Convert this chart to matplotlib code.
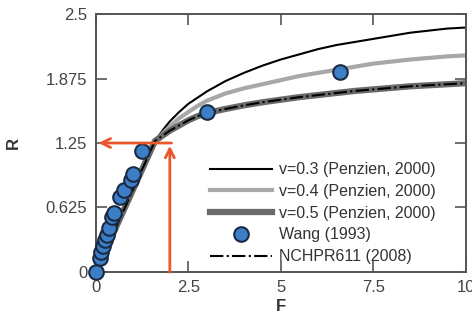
import matplotlib
matplotlib.use('Agg')
import matplotlib.pyplot as plt

plt.rcParams['font.family'] = ['Liberation Sans', 'DejaVu Sans']

# curves (Penzien, 2000)
F_curve = [0, 1.6, 1.8, 2.0, 2.25, 2.5, 2.75, 3.0, 3.5, 4.0, 4.5, 5.0, 5.5, 6.0,
           6.5, 7.0, 7.5, 8.0, 8.5, 9.0, 9.5, 10.0]
R_v03 = [0, 1.27, 1.37, 1.46, 1.55, 1.63, 1.69, 1.75, 1.85, 1.93, 2.00, 2.06, 2.11, 2.16,
         2.20, 2.23, 2.26, 2.29, 2.32, 2.34, 2.36, 2.37]
R_v04 = [0, 1.27, 1.34, 1.41, 1.49, 1.55, 1.61, 1.66, 1.73, 1.78, 1.82, 1.86, 1.90, 1.93,
         1.96, 1.99, 2.02, 2.04, 2.06, 2.075, 2.09, 2.10]
R_v05 = [0, 1.27, 1.32, 1.37, 1.42, 1.47, 1.51, 1.54, 1.58, 1.615, 1.645, 1.67, 1.695, 1.715,
         1.735, 1.755, 1.77, 1.785, 1.80, 1.81, 1.82, 1.83]
R_nchrp = R_v05

# Wang (1993) test points
F_wang = [0, 0.1, 0.15, 0.2, 0.25, 0.3, 0.35, 0.45, 0.5, 0.65, 0.75, 0.95, 1.0, 1.25, 3.0, 6.6]
R_wang = [0, 0.13, 0.19, 0.25, 0.31, 0.36, 0.43, 0.53, 0.57, 0.73, 0.79, 0.89, 0.95, 1.17, 1.55, 1.94]

xticks = [0, 2.5, 5, 7.5, 10]
yticks = [0, 0.625, 1.25, 1.875, 2.5]
ytick_labels = ['0', '0.625', '1.25', '1.875', '2.5']

F_read = 2.0
R_read = 1.25

fig = plt.figure(figsize=(4.72, 3.21), dpi=100)
ax = fig.add_axes([0.203, 0.153, 0.784, 0.803])

ax.plot(F_curve, R_v03, '-', color='black', lw=1.5, label='v=0.3 (Penzien, 2000)')
ax.plot(F_curve, R_v04, '-', color='#a8a8a8', lw=3, label='v=0.4 (Penzien, 2000)')
ax.plot(F_curve, R_v05, '-', color='#6a6a6a', lw=4.5, label='v=0.5 (Penzien, 2000)')
ax.plot(F_wang, R_wang, 'o', ms=10.5, mfc='#3d7fc6', mec='#1a2a44', mew=1.5,
        clip_on=False, zorder=5, label='Wang (1993)')
ax.plot(F_curve, R_nchrp, '-.', color='black', lw=1.5, label='NCHPR611 (2008)')

# red reading arrows
red = '#e8582a'
ax.annotate('', xy=(F_read, R_read), xytext=(F_read, -0.03),
            arrowprops=dict(arrowstyle='->', color=red, lw=2, mutation_scale=16),
            annotation_clip=False, zorder=6)
ax.annotate('', xy=(0, R_read), xytext=(F_read + 0.12, R_read),
            arrowprops=dict(arrowstyle='->', color=red, lw=2, mutation_scale=16),
            annotation_clip=False, zorder=6)

ax.set_xlim(0, 10)
ax.set_ylim(0, 2.5)
ax.set_xticks(xticks)
ax.set_xticklabels([str(t) for t in xticks])
ax.set_yticks(yticks)
ax.set_yticklabels(ytick_labels)
ax.tick_params(direction='in', length=8, width=1.2, top=True, right=True,
               labelsize=12, labelcolor='#444444', color='#555555', pad=6)
for s in ax.spines.values():
    s.set_color('#555555')
    s.set_linewidth(1.4)

ax.set_xlabel('F', fontsize=12, fontweight='bold', color='#333333', labelpad=3)
ax.set_ylabel('R', fontsize=12, fontweight='bold', color='#333333', labelpad=18)

leg = ax.legend(loc='upper left', bbox_to_anchor=(0.29, 0.45), frameon=False,
                fontsize=11.5, handlelength=3.9, handletextpad=0.45,
                labelspacing=0.42, borderaxespad=0)
for t in leg.get_texts():
    t.set_color('#333333')

fig.savefig('out.png', dpi=100)
